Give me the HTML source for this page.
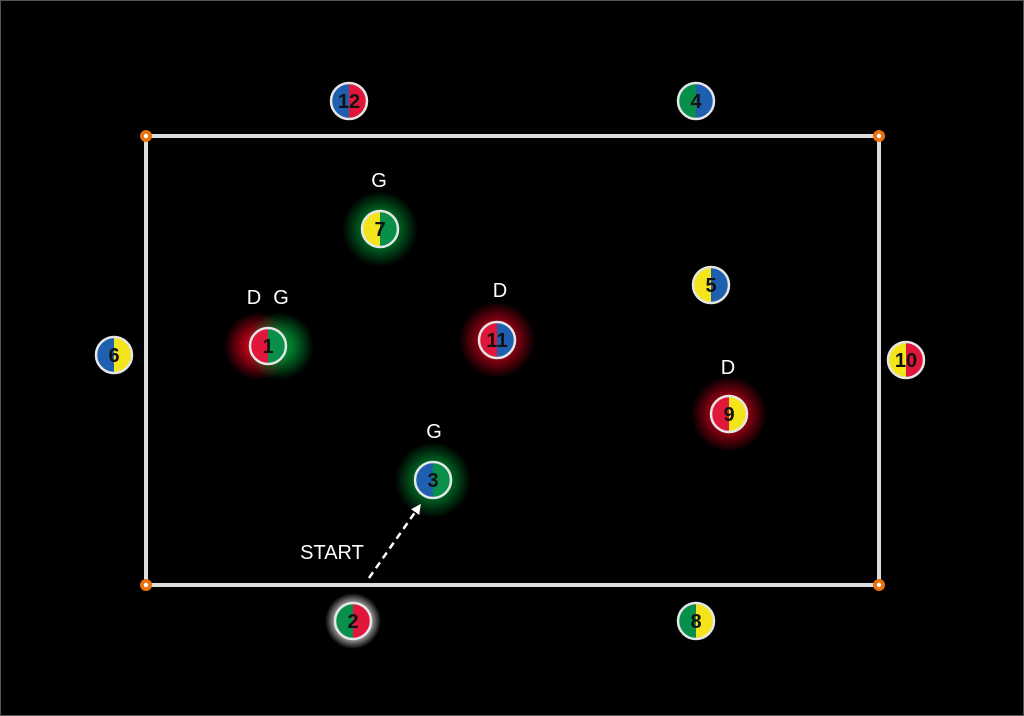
<!DOCTYPE html>
<html><head><meta charset="utf-8"><style>
html,body{margin:0;padding:0;background:#000;}
svg{display:block}
text{font-family:"Liberation Sans",sans-serif;}
</style></head><body>
<svg width="1024" height="716" viewBox="0 0 1024 716" xmlns="http://www.w3.org/2000/svg">
<defs>
<radialGradient id="gr"><stop offset="0.35" stop-color="#c8001a" stop-opacity="0.9"/><stop offset="1" stop-color="#c8001a" stop-opacity="0"/></radialGradient>
<radialGradient id="gg"><stop offset="0.35" stop-color="#008a30" stop-opacity="0.9"/><stop offset="1" stop-color="#008a30" stop-opacity="0"/></radialGradient>
<radialGradient id="gw"><stop offset="0.55" stop-color="#ffffff" stop-opacity="0.8"/><stop offset="1" stop-color="#ffffff" stop-opacity="0"/></radialGradient>
<marker id="ah" markerWidth="10" markerHeight="10" refX="5" refY="5" orient="auto" markerUnits="userSpaceOnUse"><path d="M0,0 L10,5 L0,10 z" fill="#fff"/></marker>
</defs>
<rect x="0.5" y="0.5" width="1023" height="715" fill="#000" stroke="#555" stroke-width="1"/>
<rect x="146" y="136" width="733" height="449" fill="none" stroke="#ddd" stroke-width="4"/>
<g fill="#e8730c"><circle cx="146" cy="136" r="6"/><circle cx="879" cy="136" r="6"/><circle cx="146" cy="585" r="6"/><circle cx="879" cy="585" r="6"/></g>
<g fill="#fff"><circle cx="146" cy="136" r="2.2"/><circle cx="879" cy="136" r="2.2"/><circle cx="146" cy="585" r="2.2"/><circle cx="879" cy="585" r="2.2"/></g>
<circle cx="380" cy="229" r="38" fill="url(#gg)"/>
<circle cx="258" cy="346" r="34" fill="url(#gr)"/>
<circle cx="280" cy="346" r="34" fill="url(#gg)"/>
<circle cx="497" cy="340" r="38" fill="url(#gr)"/>
<circle cx="729" cy="414" r="38" fill="url(#gr)"/>
<circle cx="433" cy="480" r="38" fill="url(#gg)"/>
<circle cx="353" cy="621" r="28" fill="url(#gw)"/>
<line x1="369" y1="578" x2="418" y2="508" stroke="#fff" stroke-width="2.5" stroke-dasharray="7,5" marker-end="url(#ah)"/>
<g fill="#fff" font-size="20" text-anchor="middle">
<text x="379" y="187">G</text>
<text x="254" y="304">D</text><text x="281" y="304">G</text>
<text x="500" y="297">D</text>
<text x="728" y="374">D</text>
<text x="434" y="438">G</text>
<text x="332" y="559">START</text>
</g>
<g stroke="none">
<path d="M349,83 A18,18 0 0 0 349,119z" fill="#1f5fb0"/><path d="M349,83 A18,18 0 0 1 349,119z" fill="#e0163a"/>
<path d="M696,83 A18,18 0 0 0 696,119z" fill="#08904a"/><path d="M696,83 A18,18 0 0 1 696,119z" fill="#1f5fb0"/>
<path d="M380,211 A18,18 0 0 0 380,247z" fill="#f4e41c"/><path d="M380,211 A18,18 0 0 1 380,247z" fill="#08904a"/>
<path d="M268,328 A18,18 0 0 0 268,364z" fill="#e0163a"/><path d="M268,328 A18,18 0 0 1 268,364z" fill="#08904a"/>
<path d="M497,322 A18,18 0 0 0 497,358z" fill="#e0163a"/><path d="M497,322 A18,18 0 0 1 497,358z" fill="#1f5fb0"/>
<path d="M711,267 A18,18 0 0 0 711,303z" fill="#f4e41c"/><path d="M711,267 A18,18 0 0 1 711,303z" fill="#1f5fb0"/>
<path d="M114,337 A18,18 0 0 0 114,373z" fill="#1f5fb0"/><path d="M114,337 A18,18 0 0 1 114,373z" fill="#f4e41c"/>
<path d="M906,342 A18,18 0 0 0 906,378z" fill="#f4e41c"/><path d="M906,342 A18,18 0 0 1 906,378z" fill="#e0163a"/>
<path d="M729,396 A18,18 0 0 0 729,432z" fill="#e0163a"/><path d="M729,396 A18,18 0 0 1 729,432z" fill="#f4e41c"/>
<path d="M433,462 A18,18 0 0 0 433,498z" fill="#1f5fb0"/><path d="M433,462 A18,18 0 0 1 433,498z" fill="#08904a"/>
<path d="M353,603 A18,18 0 0 0 353,639z" fill="#08904a"/><path d="M353,603 A18,18 0 0 1 353,639z" fill="#e0163a"/>
<path d="M696,603 A18,18 0 0 0 696,639z" fill="#08904a"/><path d="M696,603 A18,18 0 0 1 696,639z" fill="#f4e41c"/>
</g>
<g fill="none" stroke="#e6e6e6" stroke-width="2.5">
<circle cx="349" cy="101" r="18"/><circle cx="696" cy="101" r="18"/><circle cx="380" cy="229" r="18"/><circle cx="268" cy="346" r="18"/><circle cx="497" cy="340" r="18"/><circle cx="711" cy="285" r="18"/><circle cx="114" cy="355" r="18"/><circle cx="906" cy="360" r="18"/><circle cx="729" cy="414" r="18"/><circle cx="433" cy="480" r="18"/><circle cx="353" cy="621" r="18"/><circle cx="696" cy="621" r="18"/>
</g>
<g font-size="20" font-weight="bold" text-anchor="middle" fill="#111">
<text x="349" y="108">12</text><text x="696" y="108">4</text><text x="380" y="236">7</text><text x="268" y="353">1</text><text x="497" y="347">11</text><text x="711" y="292">5</text><text x="114" y="362">6</text><text x="906" y="367">10</text><text x="729" y="421">9</text><text x="433" y="487">3</text><text x="353" y="628">2</text><text x="696" y="628">8</text>
</g>
</svg>
</body></html>
